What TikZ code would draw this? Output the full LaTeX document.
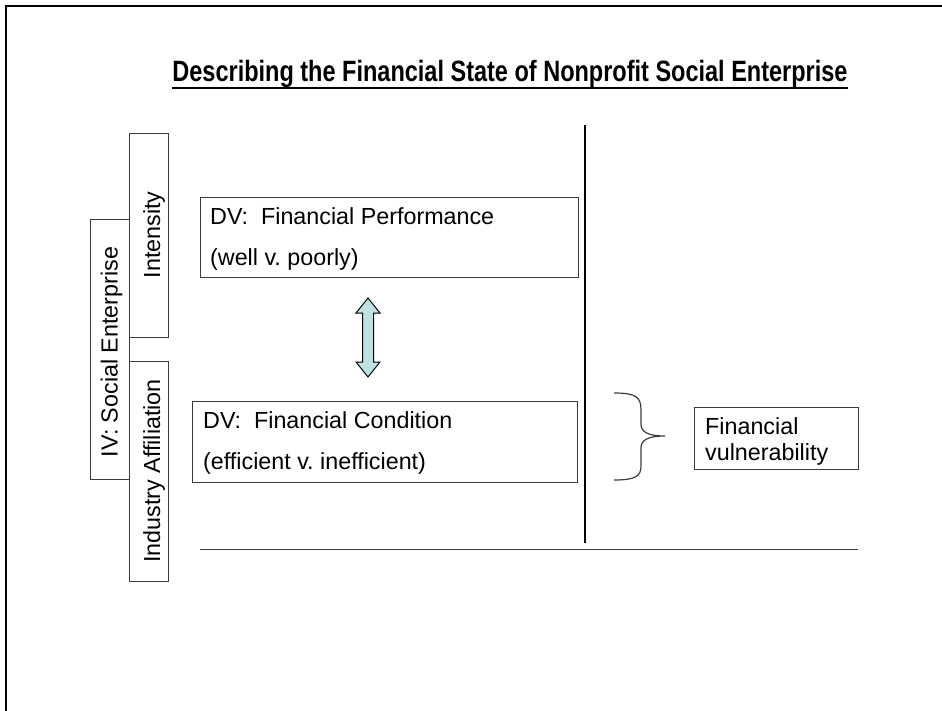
\documentclass[tikz,border=0pt]{standalone}
\usepackage{fontspec}
\usepackage{graphicx}
\setmainfont{Liberation Sans}
\definecolor{arrowfill}{RGB}{190,226,228}
\definecolor{boxline}{RGB}{60,60,60}
\begin{document}
\frenchspacing
\begin{tikzpicture}[x=1pt,y=-1pt,
  frameline/.style={line width=2.6pt, black},
  box/.style={draw=boxline, line width=1.2pt, rectangle, inner sep=0pt, anchor=north west},
  txt/.style={inner sep=0pt, anchor=base west, font=\fontsize{23.3}{28}\selectfont},
  vtxt/.style={inner sep=0pt, anchor=base, rotate=90, font=\fontsize{23.3}{28}\selectfont},
  divider/.style={line width=2pt, black},
  baseline rule/.style={line width=1pt, boxline},
  bracket/.style={line width=1.2pt, boxline},
  dblarrow/.style={draw=black, line width=1pt, fill=arrowfill, line join=miter}
]
\useasboundingbox (0,0) rectangle (942,711);

% slide edge (top and left only)
\coordinate (fa) at (6,711);
\coordinate (fb) at (6,6);
\coordinate (fc) at (942,6);
\draw[frameline] (fa) -- (fb) -- (fc);

% title, set in a tall narrow bold face
\node[inner sep=0pt, anchor=base, font=\bfseries\fontsize{23.5}{28}\selectfont] (title) at (510,82)
  {\scalebox{1}[1.25]{Describing the Financial State of Nonprofit Social Enterprise}};
\draw[line width=1.8pt] ([yshift=-6pt]title.base west) -- ([yshift=-6pt]title.base east);

% independent variable boxes
\node[box, minimum width=39pt, minimum height=260pt] (iv) at (90,219) {};
\node[box, minimum width=39pt, minimum height=204pt] (intens) at (129,133) {};
\node[box, minimum width=39pt, minimum height=220pt] (indus) at (129,361) {};
\node[vtxt] (ivt) at (117.5,352) {IV: Social Enterprise};
\node[vtxt] (intenst) at (160,235) {Intensity};
\node[vtxt] (indust) at (160,471) {Industry Affiliation};

% dependent variable boxes
\node[box, minimum width=378pt, minimum height=80pt] (perf) at (200,197) {};
\node[txt] (perfa) at (210,225) {DV:~~Financial Performance};
\node[txt] (perfb) at (210,266) {(well v. poorly)};

\node[box, minimum width=385pt, minimum height=81pt] (cond) at (192,401) {};
\node[txt] (conda) at (203,428) {DV:~~Financial Condition};
\node[txt] (condb) at (203,469) {(efficient v. inefficient)};

% two-headed block arrow between the DV boxes
\coordinate (at) at (368,298);
\coordinate (ab) at (368,377);
\draw[dblarrow] (at) -- ++(12,15) -- ++(-6.5,0) -- ++(0,49) -- ++(6.5,0) -- (ab)
  -- ++(-12,-15) -- ++(6.5,0) -- ++(0,-49) -- ++(-6.5,0) -- cycle;

% divider lines
\coordinate (vt) at (585,125);
\coordinate (vb) at (585,543);
\draw[divider] (vt) -- (vb);
\coordinate (hl) at (200,549);
\coordinate (hr) at (858,549);
\draw[baseline rule] (hl) -- (hr);

% brace and outcome box
\coordinate (bt) at (614,393);
\coordinate (bm) at (665,436);
\coordinate (bb) at (614,480);
\draw[bracket] (bt) .. controls (636,393) and (641,397) .. (641,410) -- (641,424)
  .. controls (641,432) and (648,436) .. (bm)
  .. controls (648,436) and (641,440) .. (641,448) -- (641,466)
  .. controls (641,476) and (636,480) .. (bb);

\node[box, minimum width=164pt, minimum height=62pt] (vuln) at (694,407) {};
\node[txt] (vulna) at (705,434) {Financial};
\node[txt] (vulnb) at (705,460) {vulnerability};
\end{tikzpicture}
\end{document}
